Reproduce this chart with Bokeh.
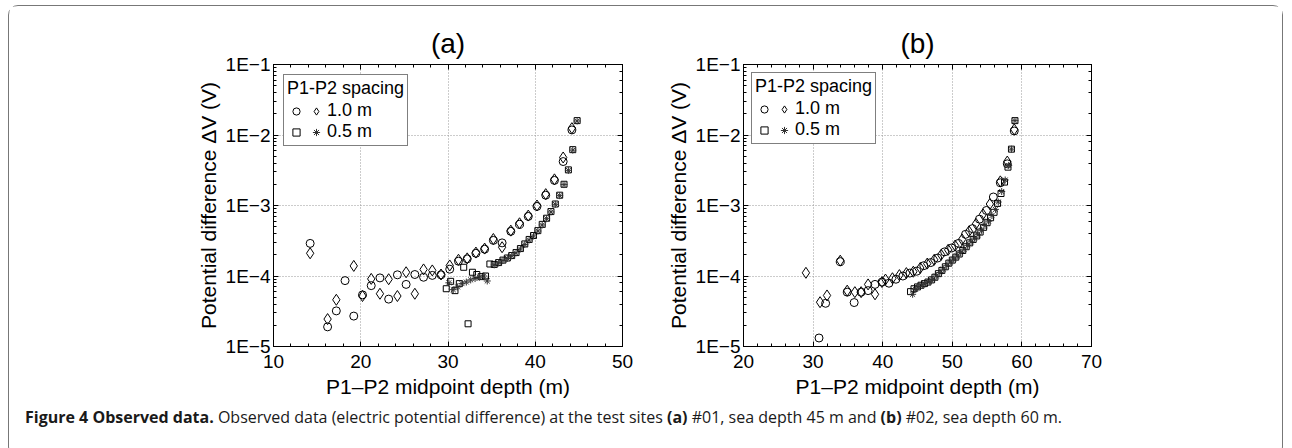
from bokeh.plotting import figure
from bokeh.models import (LinearAxis, LogAxis, SingleIntervalTicker, LogTicker, Legend,
                          LegendItem, CustomJSTickFormatter, Div)
from bokeh.layouts import row, column
from bokeh.core.properties import value
from bokeh.embed import file_html
from bokeh.resources import INLINE

FONT = "Liberation Sans"

# ---------------- data : panel (a) site #01 ----------------
a_circ_x = [14.2, 16.2, 17.2, 18.2, 19.2, 20.2, 21.2, 22.2, 23.2, 24.2, 25.2, 26.2, 27.2, 28.2, 29.2,
            30.2, 31.2, 32.2, 33.2, 34.2, 35.2, 36.2, 37.2, 38.2, 39.2, 40.2, 41.2, 42.2, 43.2, 44.2]
a_circ_y = [2.9e-4, 1.9e-5, 3.2e-5, 8.6e-5, 2.7e-5, 5.4e-5, 7.3e-5, 9.4e-5, 4.7e-5, 1.04e-4, 7.6e-5,
            1.05e-4, 9.6e-5, 1.02e-4, 1.04e-4, 1.25e-4, 1.62e-4, 1.75e-4, 2.1e-4, 2.4e-4, 3.2e-4,
            2.95e-4, 4.3e-4, 5.4e-4, 7.0e-4, 9.7e-4, 1.4e-3, 2.27e-3, 4.2e-3, 1.18e-2]
a_diam_x = [14.2, 16.2, 17.2, 19.2, 20.2, 21.2, 22.2, 23.2, 24.2, 25.2, 26.2, 27.2, 28.2, 29.2,
            30.2, 31.2, 32.2, 33.2, 34.2, 35.2, 36.2, 37.2, 38.2, 39.2, 40.2, 41.2, 42.2, 43.2, 44.2]
a_diam_y = [2.1e-4, 2.45e-5, 4.6e-5, 1.39e-4, 5.2e-5, 9.1e-5, 5.6e-5, 9.0e-5, 5.2e-5, 1.13e-4,
            5.6e-5, 1.24e-4, 1.2e-4, 1.05e-4, 1.41e-4, 1.7e-4, 1.78e-4, 2.15e-4, 2.45e-4, 3.35e-4,
            2.56e-4, 4.4e-4, 5.6e-4, 7.2e-4, 1.0e-3, 1.45e-3, 2.35e-3, 4.8e-3, 1.25e-2]
a_sq_x = [29.8, 30.3, 30.8, 31.3, 31.8, 32.3, 32.8, 33.3, 33.8, 34.3, 34.8, 35.3, 35.8, 36.3, 36.8,
          37.3, 37.8, 38.3, 38.8, 39.3, 39.8, 40.3, 40.8, 41.3, 41.8, 42.3, 42.8, 43.3, 43.8, 44.3, 44.8]
a_sq_y = [6.6e-5, 8.4e-5, 6.2e-5, 7.8e-5, 1.33e-4, 2.1e-5, 1.13e-4, 1.05e-4, 9.8e-5, 1.0e-4, 1.48e-4,
          1.46e-4, 1.55e-4, 1.68e-4, 1.8e-4, 1.95e-4, 2.15e-4, 2.45e-4, 2.85e-4, 3.3e-4, 3.75e-4,
          4.4e-4, 5.4e-4, 6.6e-4, 8.2e-4, 1.05e-3, 1.4e-3, 2.0e-3, 3.2e-3, 6.2e-3, 1.6e-2]
a_ast_x = [30.1, 30.6, 31.1, 31.6, 32.1, 32.6, 33.1, 33.6, 34.1, 34.5, 35.3, 35.8, 36.3, 36.8, 37.3,
           37.8, 38.3, 38.8, 39.3, 39.8, 40.3, 40.8, 41.3, 41.8, 42.3, 42.8, 43.3, 43.8, 44.3, 44.8]
a_ast_y = [8.0e-5, 6.4e-5, 7.0e-5, 7.8e-5, 8.2e-5, 8.8e-5, 9.2e-5, 9.6e-5, 1.0e-4, 8.5e-5, 1.44e-4,
           1.53e-4, 1.66e-4, 1.78e-4, 1.93e-4, 2.13e-4, 2.42e-4, 2.8e-4, 3.25e-4, 3.7e-4, 4.35e-4,
           5.3e-4, 6.5e-4, 8.1e-4, 1.04e-3, 1.38e-3, 1.98e-3, 3.15e-3, 6.1e-3, 1.58e-2]

# ---------------- data : panel (b) site #02 ----------------
b_circ_x = [30.85, 31.8, 33.9, 34.9, 35.9, 36.9, 37.9, 38.9, 39.9, 40.9, 41.9, 42.9, 43.9, 44.9,
            45.9, 46.9, 47.9, 48.9, 49.9, 50.9, 51.9, 52.9, 53.9, 54.9, 55.9, 56.9, 57.9, 58.9]
b_circ_y = [1.32e-5, 4.1e-5, 1.6e-4, 5.9e-5, 4.2e-5, 5.9e-5, 6.2e-5, 7.6e-5, 8.2e-5, 7.9e-5, 9.0e-5,
            1.0e-4, 1.1e-4, 1.17e-4, 1.4e-4, 1.55e-4, 1.8e-4, 2.2e-4, 2.5e-4, 2.9e-4, 3.9e-4, 4.7e-4,
            6.4e-4, 8.5e-4, 1.32e-3, 2.1e-3, 3.9e-3, 1.14e-2]
b_diam_x = [28.97, 31.0, 32.0, 33.9, 34.9, 36.0, 36.9, 37.9, 38.9, 39.9, 40.4, 41.4, 42.4, 43.4, 44.4,
            45.4, 46.4, 47.4, 48.4, 49.4, 50.4, 51.4, 52.4, 53.4, 54.4, 55.4, 56.9, 57.9, 58.9]
b_diam_y = [1.11e-4, 4.25e-5, 5.3e-5, 1.65e-4, 6.2e-5, 5.9e-5, 5.9e-5, 7.6e-5, 5.5e-5, 8.2e-5, 8.9e-5,
            9.3e-5, 1.03e-4, 1.1e-4, 1.15e-4, 1.3e-4, 1.5e-4, 1.7e-4, 2.0e-4, 2.35e-4, 2.7e-4, 3.3e-4,
            4.3e-4, 5.5e-4, 7.5e-4, 1.05e-3, 2.2e-3, 4.2e-3, 1.2e-2]
b_sq_x = [44.0, 44.5, 45.0, 45.5, 46.0, 46.5, 47.0, 47.5, 48.0, 48.5, 49.0, 49.5, 50.0, 50.5, 51.0,
          51.5, 52.0, 52.5, 53.0, 53.5, 54.0, 54.5, 55.0, 55.5, 56.0, 56.5, 57.0, 57.5, 58.0, 58.5, 59.0]
b_sq_y = [6.0e-5, 6.6e-5, 7.0e-5, 7.4e-5, 7.8e-5, 8.2e-5, 8.8e-5, 9.6e-5, 1.08e-4, 1.2e-4, 1.35e-4,
          1.52e-4, 1.68e-4, 1.85e-4, 2.05e-4, 2.3e-4, 2.6e-4, 2.95e-4, 3.3e-4, 3.7e-4, 4.2e-4, 4.9e-4,
          5.7e-4, 6.7e-4, 8.0e-4, 1.07e-3, 1.48e-3, 2.15e-3, 3.5e-3, 6.3e-3, 1.6e-2]
b_ast_x = [44.3, 44.7, 45.2, 45.7, 46.2, 46.7, 47.2, 47.7, 48.2, 48.7, 49.2, 49.7, 50.2, 50.7, 51.2,
           51.7, 52.2, 52.7, 53.2, 53.7, 54.2, 54.7, 55.2, 55.7, 56.2, 56.6, 57.1, 57.6, 58.1, 58.5, 59.0]
b_ast_y = [5.5e-5, 6.5e-5, 7.1e-5, 7.5e-5, 8.0e-5, 8.4e-5, 9.0e-5, 1.0e-4, 1.12e-4, 1.25e-4, 1.4e-4,
           1.58e-4, 1.74e-4, 1.92e-4, 2.15e-4, 2.4e-4, 2.72e-4, 3.05e-4, 3.45e-4, 3.85e-4, 4.45e-4,
           5.2e-4, 6.0e-4, 7.2e-4, 8.8e-4, 1.12e-3, 1.58e-3, 2.3e-3, 3.7e-3, 6.3e-3, 1.6e-2]

y_tick_exps = [-5, -4, -3, -2, -1]
y_tick_labels = ["1E\u22125", "1E\u22124", "1E\u22123", "1E\u22122", "1E\u22121"]
x_label = "P1\u2013P2 midpoint depth (m)"
y_label = "Potential difference \u0394V (V)"
legend_title = "P1-P2 spacing"
legend_labels = ["1.0 m", "0.5 m"]


def style_axis(ax, labels=True, standoff=6):
    ax.major_tick_in = 5
    ax.major_tick_out = 0
    ax.minor_tick_in = 3
    ax.minor_tick_out = 0
    ax.axis_line_color = "black"
    ax.major_tick_line_color = "black"
    ax.minor_tick_line_color = "black"
    ax.major_label_text_font = FONT
    if labels:
        ax.major_label_text_color = "black"
        ax.major_label_text_font_size = "19px"
        ax.major_label_standoff = standoff
        ax.axis_label_text_font = FONT
        ax.axis_label_text_font_size = "21px"
        ax.axis_label_text_font_style = "normal"
        ax.axis_label_text_color = "black"
    else:
        ax.major_label_text_color = None
        ax.major_label_standoff = 0


def make_panel(title, xr, cx, cy, dx, dy, sx, sy, ax_, ay, width, bl, br, legend_margin):
    p = figure(width=width, height=400, x_range=xr, y_range=(1e-5, 1e-1), y_axis_type="log",
               output_backend="svg", toolbar_location=None,
               min_border_left=bl, min_border_right=br, min_border_top=58, min_border_bottom=60)
    p.title.text = title
    p.title.align = "center"
    p.title.vertical_align = "middle"
    p.title.text_font = FONT
    p.title.text_font_size = "28px"
    p.title.text_font_style = "normal"
    p.title.text_color = "black"
    p.title.standoff = 10
    p.outline_line_color = "black"
    p.background_fill_color = "white"
    p.border_fill_color = "white"

    p.xaxis.ticker = SingleIntervalTicker(interval=10, num_minor_ticks=5)
    p.xaxis.axis_label = x_label
    p.yaxis.axis_label = y_label
    p.yaxis.formatter = CustomJSTickFormatter(
        args=dict(exps=y_tick_exps, labels=y_tick_labels),
        code="const k = Math.round(Math.log10(tick)); const i = exps.indexOf(k); return i >= 0 ? labels[i] : '';")
    style_axis(p.xaxis[0], standoff=8)
    p.xaxis.axis_label_standoff = 4
    style_axis(p.yaxis[0], standoff=3)
    p.yaxis.axis_label_standoff = 3

    top = LinearAxis(ticker=SingleIntervalTicker(interval=10, num_minor_ticks=5))
    style_axis(top, labels=False)
    p.add_layout(top, "above")
    right = LogAxis(ticker=LogTicker())
    style_axis(right, labels=False)
    p.add_layout(right, "right")

    for g in (p.xgrid[0], p.ygrid[0]):
        g.grid_line_color = "#999999"
        g.grid_line_dash = "1 2"
        g.grid_line_width = 1

    rc = p.scatter(cx, cy, marker="circle", size=8, fill_color=None, line_color="black", line_width=1)
    rd = p.scatter(dx, dy, marker="diamond", size=11, fill_color=None, line_color="black", line_width=1)
    rs = p.scatter(sx, sy, marker="square", size=6, fill_color=None, line_color="black", line_width=1)
    ra = p.scatter(ax_, ay, marker="asterisk", size=7, line_color="#333333", line_width=1)

    leg = Legend(items=[LegendItem(label=value(""), renderers=[rc]),
                        LegendItem(label=value(""), renderers=[rs]),
                        LegendItem(label=value(legend_labels[0]), renderers=[rd]),
                        LegendItem(label=value(legend_labels[1]), renderers=[ra])],
                 nrows=2, orientation="vertical", location="top_left",
                 title=legend_title)
    leg.title_text_font = FONT
    leg.title_text_font_size = "18px"
    leg.title_text_font_style = "normal"
    leg.title_text_color = "black"
    leg.title_standoff = 1
    leg.label_text_font = FONT
    leg.label_text_font_size = "18px"
    leg.label_text_color = "black"
    leg.border_line_color = "black"
    leg.border_line_width = 1
    leg.background_fill_alpha = 1
    leg.padding = 3
    leg.margin = legend_margin
    leg.spacing = 0
    leg.glyph_width = 18
    leg.glyph_height = 18
    leg.label_height = 18
    leg.label_width = 0
    leg.label_standoff = 2
    p.add_layout(leg)
    return p


pa = make_panel("(a)", (10, 50), a_circ_x, a_circ_y, a_diam_x, a_diam_y,
                a_sq_x, a_sq_y, a_ast_x, a_ast_y, width=654, bl=264, br=41, legend_margin=10)
pb = make_panel("(b)", (20, 70), b_circ_x, b_circ_y, b_diam_x, b_diam_y,
                b_sq_x, b_sq_y, b_ast_x, b_ast_y, width=619, bl=74, br=191, legend_margin=8)

caption = Div(
    text=("<b>Figure 4 Observed data.</b> Observed data (electric potential difference) at the test sites "
          "<b>(a)</b> #01, sea depth 45 m and <b>(b)</b> #02, sea depth 60 m."),
    width=1260, height=40,
    styles={"font-family": "Open Sans", "font-size": "16px", "color": "#1a1a1a",
            "line-height": "18px", "padding-left": "11px", "padding-top": "0px",
            "position": "relative", "top": "-3px"})

layout = column(row(pa, pb), caption,
                styles={"border": "1px solid #777", "border-radius": "10px", "background": "white",
                        "margin-left": "8px", "margin-top": "5px"})

open("out.html", "w").write(file_html(layout, INLINE))
